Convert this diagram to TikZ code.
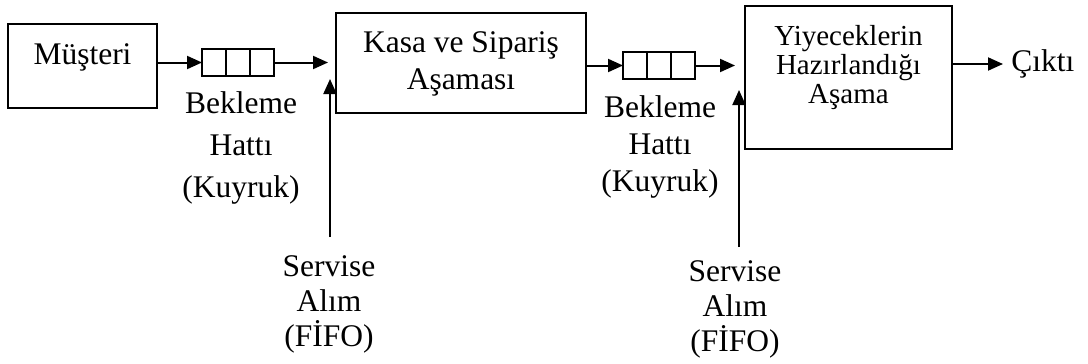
\documentclass[tikz,border=0pt]{standalone}
\usepackage{fontspec}
\setmainfont{Liberation Serif}
\usetikzlibrary{arrows.meta,positioning}
\tikzset{
  kutu/.style={
    rectangle,
    draw=black,
    line width=1pt,
    inner sep=0pt,
    align=center
  },
  hucre/.style={
    rectangle,
    draw=black,
    line width=0.7pt,
    inner sep=0pt,
    outer sep=0pt,
    minimum width=12pt,
    minimum height=13.5pt
  },
  etiket/.style={
    align=center,
    inner sep=0pt,
    font=\fontsize{15.75pt}{#1}\selectfont
  },
  etiket/.default=18pt,
  akis/.style={-{Triangle[length=7.5pt,width=6.5pt]},line width=1pt}
}
\begin{document}
\begin{tikzpicture}[x=0.5pt,y=-0.5pt,node distance=0pt]
  \useasboundingbox (0,0) rectangle (1088,364);
  % asamalar
  \node[kutu, anchor=north, minimum width=74.5pt, text height=20pt, text depth=22pt,
    font=\fontsize{15.75pt}{18pt}\selectfont] (musteri) at (82.5,23) {Müşteri};
  \node[kutu, anchor=north, minimum width=125pt, text height=38pt, text depth=12pt,
    font=\fontsize{15.75pt}{18pt}\selectfont] (kasa) at (461,12) {Kasa ve Sipariş\\Aşaması};
  \node[kutu, anchor=north, minimum width=103.5pt, text height=48.5pt, text depth=23pt,
    font=\fontsize{14.5pt}{14.25pt}\selectfont] (hazirlik) at (848.5,5) {Yiyeceklerin\\Hazırlandığı\\Aşama};
  \node[etiket, anchor=west] (cikti) at (1011,64) {Çıktı};
  % kuyruklar
  \node[hucre] (k1a) at (214,62.5) {};
  \node[hucre, right=of k1a] (k1b) {};
  \node[hucre, right=of k1b] (k1c) {};
  \node[hucre] (k2a) at (635,65.5) {};
  \node[hucre, right=of k2a] (k2b) {};
  \node[hucre, right=of k2b] (k2c) {};
  % etiketler
  \node[etiket=21pt, anchor=north] (bekleme1) at (241,91.5) {Bekleme\\Hattı\\(Kuyruk)};
  \node[etiket=18.5pt, anchor=north] (bekleme2) at (660,95.5) {Bekleme\\Hattı\\(Kuyruk)};
  \node[etiket=17.5pt, anchor=north] (servis1) at (329,255.5) {Servise\\Alım\\(FİFO)};
  \node[etiket=17.5pt, anchor=north] (servis2) at (735,260.5) {Servise\\Alım\\(FİFO)};
  \coordinate (giris1) at (328,62.5);
  \coordinate (alim1) at (330,79);
  \coordinate (giris2) at (735,65.5);
  \coordinate (alim2) at (739,90);
  % oklar
  \draw[akis] (musteri.east |- k1a.west) -- (k1a.west);
  \draw[akis] (k1c.east) -- (giris1);
  \draw[akis, shorten <=9.25pt] (alim1 |- servis1.north) -- (alim1);
  \draw[akis] (kasa.east |- k2a.west) -- (k2a.west);
  \draw[akis] (k2c.east) -- (giris2);
  \draw[akis, shorten <=6.75pt] (alim2 |- servis2.north) -- (alim2);
  \draw[akis, shorten >=4pt] (hazirlik.east |- cikti.west) -- (cikti.west);
\end{tikzpicture}
\end{document}
